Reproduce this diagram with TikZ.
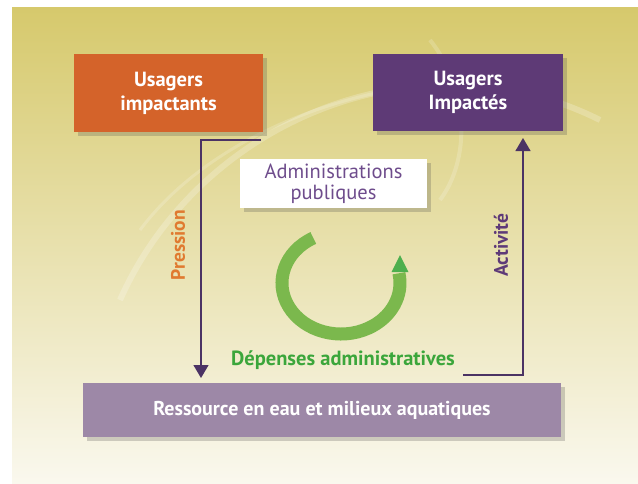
\documentclass[tikz,border=0pt]{standalone}
\usepackage{fontspec}
\setmainfont{PT Sans}
\usetikzlibrary{shadows,arrows.meta}
\definecolor{orangeb}{HTML}{D4632A}
\definecolor{purpb}{HTML}{5E3A76}
\definecolor{lilac}{HTML}{9D88A7}
\definecolor{khakitop}{HTML}{D6C96C}
\definecolor{khakimid}{HTML}{E1D78F}
\definecolor{creambot}{HTML}{FAF8EE}
\definecolor{ringgreen}{HTML}{7BB84D}
\definecolor{tipgreen}{HTML}{4DAF4E}
\definecolor{txtgreen}{HTML}{3BA63B}
\definecolor{presscol}{HTML}{E07A30}
\definecolor{actcol}{HTML}{5E3A78}
\definecolor{admcol}{HTML}{6E4C8C}
\definecolor{linecol}{HTML}{4B3364}
\tikzset{
  boxstyle/.style={draw=none, align=center, text=white, font=\bfseries,
    drop shadow={shadow xshift=4pt, shadow yshift=-4pt, opacity=0.25, fill=black!70}},
  conn/.style={draw=linecol, line width=1.3pt, -{Triangle[width=15pt,length=13pt]}},
  vlabel/.style={font=\bfseries\fontsize{19.5}{22}\selectfont, rotate=90}
}
\begin{document}
\begin{tikzpicture}[x=1pt,y=-1pt]
\useasboundingbox (0,0) rectangle (638,483);
\fill[white] (0,0) rectangle (638,483);
\shade[top color=khakitop, middle color=khakimid, bottom color=creambot] (12,7) rectangle (638,483);
% faint splash
\draw[white, opacity=0.22, line width=6pt] (120,300) .. controls (200,120) and (420,30) .. (600,120);
\draw[white, opacity=0.18, line width=3pt] (140,230) .. controls (230,110) and (430,60) .. (560,90);
\draw[white, opacity=0.18, line width=4pt] (430,40) .. controls (470,90) and (470,160) .. (440,200);

\node[boxstyle, fill=orangeb, minimum width=189, minimum height=78,
  font=\bfseries\fontsize{20.5}{24}\selectfont] (imp) at (168.5,93) {Usagers\\impactants};
\node[boxstyle, fill=purpb, minimum width=190, minimum height=77,
  font=\bfseries\fontsize{20.5}{24}\selectfont] (ipd) at (468,92.5) {Usagers\\Impactés};
\node[boxstyle, fill=white, text=admcol, minimum width=187, minimum height=49,
  font=\fontsize{20.5}{21}\selectfont] (adm) at (333.5,183.5) {Administrations\\publiques};
\node[boxstyle, fill=lilac, minimum width=478, minimum height=54,
  font=\bfseries\fontsize{20}{22}\selectfont] (res) at (322,410) {Ressource en eau et milieux aquatiques};

\coordinate (p0) at (261,140);
\coordinate (p1) at (201,378);
\draw[conn] (p0) -| (p1);
\node[vlabel, text=presscol] (press) at (178,245) {Pression};

\coordinate (a0) at (463,375);
\coordinate (a1) at (523,138);
\draw[conn] (a0) -| (a1);
\node[vlabel, text=actcol] (act) at (501,245) {Activité};

% green cycle
\coordinate (cc) at (341,283);
\draw[ringgreen, line width=13pt] ([shift={(-118:59 and 51)}]cc) arc[start angle=-118, end angle=-371, x radius=59, y radius=51];
\fill[tipgreen] (391.5,272) -- (408.5,272) -- (400,255) -- cycle;
\node[text=txtgreen, font=\bfseries\fontsize{20.5}{22}\selectfont] (dep) at (343,360) {Dépenses administratives};
\end{tikzpicture}
\end{document}
